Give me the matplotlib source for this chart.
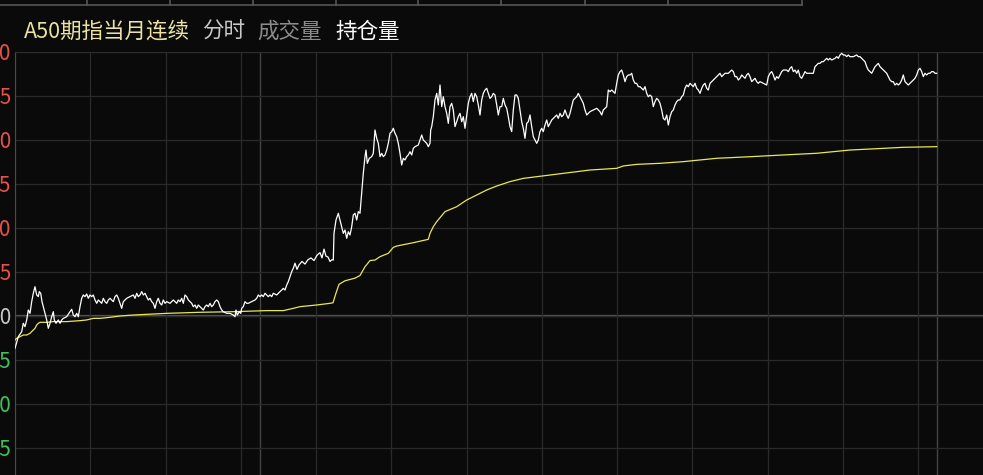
import numpy as np
import matplotlib
matplotlib.use("Agg")
import matplotlib.pyplot as plt
from matplotlib.lines import Line2D

plt.rcParams['font.family'] = ['Noto Sans CJK SC', 'DejaVu Sans']

# time axis in ticks of the intraday session, change in basis points vs previous close
price_t = [0, 3.3, 6.7, 8.3, 10, 11.7, 13.3, 15, 16.7, 18.3, 20, 21.7, 23.3, 24.3, 25.7, 27, 28.3, 30,
           31.7, 33.3, 35, 36.7, 38.3, 39.3, 41, 43.3, 45, 46.7, 48.3, 51.7, 55, 56.7, 58.3, 60, 61.7,
           63.3, 65, 66.7, 68.3, 70, 71.7, 73.3, 75, 76.7, 78.3, 80, 81.7, 83.3, 85, 86.7, 88.3, 90,
           91.7, 93.3, 95, 98.3, 100, 101.7, 103.3, 105, 106.7, 108.3, 110, 111.7, 115, 118.3, 120,
           121.7, 123.3, 125, 126.7, 128.3, 130, 131.7, 133.3, 135, 136.7, 138.3, 140, 141.7, 143.3,
           145, 146.7, 148.3, 150, 151.7, 155, 156.7, 158.3, 160, 161.7, 163.3, 165, 166.7, 168.3,
           170, 171.7, 173.3, 175, 176.7, 178.3, 180, 181.7, 183.3, 185, 186.7, 188.3, 190, 191.7,
           193.3, 195, 196.7, 198.3, 200, 201.7, 203.3, 205, 206.7, 208.3, 211.7, 215, 218.3, 220,
           221, 222.3, 224.3, 225.7, 226.7, 228.3, 230, 231.7, 233.3, 236.7, 240, 241.7, 243.3, 245,
           246.7, 248.3, 250, 251.7, 253.3, 255, 256.7, 258.3, 261.7, 263.3, 265, 266.7, 268.3, 270,
           271.7, 273.3, 275, 276.7, 278.3, 280, 282, 284, 287, 290, 293, 296, 299, 302, 305, 307,
           309, 311, 313, 315, 317,
           318.3, 319, 321, 323.3, 325, 326.7, 328.3, 330, 331.7, 333.3, 335, 336.7, 338.3, 340,
           341.7, 343.3, 345, 346.7, 348.3, 350, 351, 352.3, 354.3, 356.7, 358.3, 360, 361.7, 363.3,
           365, 366.7, 368.3, 370, 371.7, 373.3, 375, 376.7, 378.3, 380, 381.7, 383.3, 385, 386.7,
           388.3, 390, 391.7, 393.3, 395, 396.7, 398.3, 400, 403.3, 405, 406.7, 408.3, 410, 411.7,
           413.3, 415, 415.7, 416.7, 418.3, 420, 421.7, 423.3, 425, 426.7, 428.3, 430, 431.7, 433.3,
           435, 436.7, 438.3, 440, 441.7, 443.3, 445, 446.7, 448.3, 450, 451.7, 453.3, 455, 456.7,
           458.3, 460, 461.7, 463.3, 465, 466.7, 468.3, 470, 471.7, 473.3, 475, 476.7, 478.3, 480,
           481.7, 483.3, 485, 486.7, 488.3, 490, 491.7, 493.3, 495, 496.7, 498.3, 500, 501.7, 503.3,
           505, 506.7, 508.3, 510, 511.7, 513.3, 515, 516.7, 518.3, 520, 521.7, 523.3, 525, 526.7,
           528.3, 530, 531.7, 533.3, 535, 536.7, 538.3, 540, 541.7, 543.3, 545, 546.7, 548.3, 550,
           551.7, 553.3, 555, 556.7, 558.3, 560, 561.7, 563.3, 565, 566.7, 568.3, 570, 571.7, 573.3,
           575, 578.3, 581.7, 583.3, 585, 586.7, 588.3, 590, 591.7, 593.3, 595, 596.7, 598.3, 600,
           601.7, 603.3, 605, 606.7, 608.3, 610, 611.7, 613.3, 615, 616.7, 618.3, 620, 621.7, 623.3,
           625, 626.7, 628.3, 630, 631.7, 633.3, 635, 636.7, 638.3, 640, 641.7, 643.3, 645, 646.7,
           648.3, 650, 651.7, 653.3, 655, 656.7, 658.3, 660, 661.7, 663.3, 665, 666.7, 668.3, 670,
           671.7, 673.3, 675, 676.7, 678.3, 680, 681.7, 683.3, 685, 686.7, 688.3, 690, 691.7, 693.3,
           695, 696.7, 698.3, 700, 701.7, 703.3, 705, 706.7, 708.3, 710, 713.3, 715, 716.7, 718.3,
           720, 721.7, 723.3, 725, 726.7, 728.3, 730, 731.7, 733.3, 735, 736.7, 738.3, 740, 741.7,
           743.3, 745, 748.3, 751.7, 753.3, 755, 756.7, 758.3, 760, 761.7, 763.3, 765, 766.7, 768.3,
           771.7, 773.3, 775, 776.7, 778.3, 780, 781.7, 783.3, 785, 786.7, 788.3, 790, 791.7, 795,
           798.3, 800, 801.7, 803.3, 805, 806.7, 808.3, 810, 811.7, 813.3, 815, 816.7, 820, 821.7,
           823.3, 825, 826.7, 828.3, 830, 831.7, 833.3, 835, 838.3, 841.7, 843.3, 845, 846.7, 848.3,
           850, 851.7, 853.3, 855, 856.7, 858.3, 860, 861.7, 863.3, 865, 866.7, 868.3, 870, 871.7,
           873.3, 875, 876.7, 878.3, 880, 881.7, 883.3, 885, 886.7, 888.3, 890, 891.7, 893.3, 895,
           896.7, 898.3, 900, 901.7, 903.3, 905, 906.7, 908.3, 910, 911.7, 913.3, 915, 916.7, 918.3,
           920, 921.7]
price_bp = [-3.67, -2.35, -1.78, -0.83, -1.21, -0.45, 0.68, 0.30, 1.63, 2.58, 3.33, 2.39, 2.20, 2.77,
            2.58, 1.63, 1.06, 0.30, -0.45, -1.40, -0.83, -0.08, 0.49, -0.45, -0.83, -0.45, -0.83,
            -0.45, -0.27, -0.08, 0.49, 0.76, 0.11, -0.08, 0.30, -0.08, 1.06, 2.01, 2.39, 2.20, 2.50,
            2.01, 2.39, 2.20, 2.39, 1.82, 1.44, 1.82, 1.63, 1.44, 2.01, 1.63, 1.44, 1.82, 2.01, 1.63,
            2.20, 2.39, 2.01, 1.44, 0.87, 1.63, 1.82, 2.01, 2.20, 2.39, 2.01, 2.58, 2.20, 2.39, 2.77,
            2.39, 2.58, 2.20, 1.82, 2.01, 1.63, 1.44, 0.87, 1.63, 2.01, 1.44, 1.25, 1.82, 1.44, 1.63,
            1.44, 1.63, 1.82, 1.63, 1.44, 1.82, 1.63, 2.01, 1.44, 2.39, 2.20, 1.82, 1.63, 1.44, 1.06,
            1.25, 0.87, 1.25, 1.06, 0.87, 0.68, 1.06, 1.25, 1.06, 1.44, 1.06, 1.25, 1.63, 1.82, 1.63,
            1.06, 0.68, 0.49, 0.30, 0.30, 0.11, -0.08, 0.68, 0.11, 0.49, 0.30, 0.87, 1.06, 1.63, 1.44,
            1.44, 1.63, 1.82, 2.01, 2.39, 2.20, 2.39, 2.20, 2.58, 2.39, 2.20, 2.39, 2.20, 2.58, 2.39,
            2.58, 2.77, 2.95, 3.14, 2.95, 3.52, 3.90, 4.47, 5.04, 5.42, 6.0, 5.3, 5.8, 6.2, 5.9, 6.4,
            6.6, 6.3, 6.9, 7.2, 6.6, 7.6, 6.8, 6.7, 6.2, 6.4,
            6.36, 9.39, 10.91, 11.67, 10.91, 10.15, 9.39, 9.77, 8.83, 9.58, 9.20, 10.15, 11.48, 11.67,
            10.91, 11.86, 11.67, 13.94, 16.21, 18.11, 18.86, 17.35, 17.92, 18.11, 18.48, 21.14, 20.19,
            19.62, 18.11, 18.48, 18.11, 18.30, 18.86, 19.62, 20.76, 20.95, 21.33, 20.76, 20.38, 19.62,
            18.48, 17.16, 17.92, 17.73, 18.11, 18.30, 18.67, 18.30, 19.05, 19.24, 19.43, 20.0, 20.57,
            20.0, 19.81, 19.62, 19.24, 19.62, 21.14, 21.52, 22.65, 24.55, 25.30, 23.98, 26.25, 23.79,
            24.92, 23.79, 23.03, 21.89, 23.79, 24.17, 23.41, 21.52, 22.08, 22.65, 23.03, 22.08, 22.65,
            21.33, 22.84, 24.17, 24.92, 25.30, 24.36, 25.30, 24.92, 23.98, 22.84, 24.55, 25.30, 25.68,
            25.87, 25.30, 24.73, 24.92, 25.30, 25.11, 23.98, 22.84, 23.79, 23.79, 24.73, 23.98, 23.60,
            22.65, 21.52, 20.95, 23.41, 25.11, 25.11, 24.73, 23.41, 22.08, 21.33, 20.19, 21.89, 22.08,
            22.84, 21.52, 20.38, 20.0, 19.62, 20.0, 20.95, 21.33, 20.95, 21.70, 22.27, 21.52, 21.89,
            22.27, 22.46, 22.65, 22.84, 22.46, 23.03, 22.65, 22.84, 23.41, 22.84, 22.46, 23.03, 23.79,
            24.55, 24.73, 24.92, 25.30, 24.92, 24.55, 24.17, 23.41, 22.84, 23.03, 23.22, 23.41, 23.60,
            23.41, 23.22, 22.84, 23.41, 23.60, 23.79, 25.68, 25.49, 25.68, 25.49, 25.30, 26.44, 27.39,
            27.77, 27.95, 27.39, 26.63, 27.20, 27.39, 27.39, 27.58, 26.82, 26.44, 26.44, 26.06, 26.06,
            25.87, 25.68, 26.06, 25.30, 24.92, 25.11, 24.92, 23.79, 24.36, 24.73, 24.55, 24.17, 23.41,
            22.46, 22.27, 22.84, 21.70, 22.65, 23.22, 23.41, 23.98, 24.36, 24.55, 24.55, 24.92, 25.11,
            25.87, 26.25, 26.06, 26.44, 26.25, 26.06, 26.44, 25.87, 25.68, 25.30, 25.87, 26.25, 26.44,
            25.87, 25.68, 26.44, 26.63, 26.82, 27.01, 27.20, 27.39, 27.58, 27.20, 27.39, 27.58, 27.58,
            27.77, 27.95, 27.77, 27.20, 27.20, 26.82, 27.01, 27.39, 27.20, 27.01, 27.39, 27.58, 27.20,
            26.63, 26.82, 27.01, 26.63, 26.44, 26.63, 26.44, 26.25, 27.20, 27.58, 27.77, 27.39, 26.82,
            27.20, 27.01, 27.39, 27.77, 27.95, 27.95, 27.77, 28.14, 28.33, 27.77, 27.95, 27.58, 27.95,
            27.20, 27.01, 27.39, 27.77, 27.58, 27.58, 27.58, 28.33, 28.52, 28.71, 28.71, 28.90, 28.90,
            29.09, 29.28, 29.09, 29.28, 29.09, 29.28, 29.47, 29.28, 29.66, 29.85, 29.66, 29.66, 29.47,
            29.66, 29.47, 29.47, 29.66, 29.47, 29.47, 29.28, 29.09, 28.90, 28.33, 27.95, 27.77, 27.58,
            27.95, 28.33, 28.52, 28.71, 28.33, 28.14, 27.95, 27.77, 27.58, 27.20, 26.82, 26.63, 26.63,
            26.25, 26.44, 26.25, 26.44, 26.82, 27.39, 26.63, 26.44, 26.25, 26.44, 26.63, 26.82, 27.01,
            27.39, 27.95, 28.14, 27.77, 27.20, 27.58, 27.39, 27.58, 27.58, 27.77, 27.77, 27.58, 27.58]

avg_t = [0, 1.7, 5, 8.3, 11.7, 15, 18.3, 20, 21.7, 23.3, 25, 31.7, 38.3, 51.7, 65, 71.7, 78.3, 85,
         95, 105, 118.3, 151.7, 185, 218.3, 251.7, 268.3, 278.3, 285, 301.7, 315, 318, 321, 324,
         330, 340, 345, 350, 355, 360, 365, 373.3, 378.3, 381.7, 398.3, 413.3, 415, 418.3, 421.7,
         430, 441.7, 451.7, 461.7, 471.7, 481.7, 495, 508.3, 521.7, 535, 548.3, 561.7, 575, 601.7,
         608.3, 621.7, 645, 668.3, 701.7, 735, 768.3, 801.7, 835, 868.3, 888.3, 921.7]
avg_bp = [-2.73, -2.54, -2.35, -2.16, -2.16, -1.97, -1.59, -1.40, -1.02, -0.83, -0.72, -0.72, -0.64,
          -0.64, -0.53, -0.45, -0.27, -0.27, -0.15, 0.0, 0.11, 0.30, 0.42, 0.49, 0.61, 0.61, 0.87,
          1.06, 1.25, 1.44, 1.5, 2.6, 3.6, 4.0, 4.3, 4.6, 5.6, 6.3, 6.36, 6.74, 7.12, 7.8, 7.95,
          8.33, 8.71, 9.39, 10.15, 10.72, 11.86, 12.42, 13.18, 13.75, 14.32, 14.77, 15.27, 15.64,
          15.83, 16.02, 16.21, 16.40, 16.59, 16.78, 17.05, 17.23, 17.35, 17.54, 17.92, 18.1, 18.30,
          18.49, 18.86, 19.05, 19.17, 19.24]

y_ticks = [30, 25, 20, 15, 10, 5, 0, -5, -10, -15]
session_breaks = [245, 922]
grid_step = 75.25

bg = '#0a0a0a'
fig = plt.figure(figsize=(9.83, 4.75), dpi=100, facecolor=bg)
ax = fig.add_axes([15 / 983, 0, 1 - 15 / 983, 1 - 52 / 475])
ax.set_facecolor(bg)

ax.set_xlim(0, 968)
ax.set_ylim(-18.07, 30)

ax.set_xticks(np.arange(0, 930, grid_step))
ax.set_xticklabels([])
ax.set_yticks(y_ticks)
ax.set_yticklabels(['%.2f' % (v / 100) for v in y_ticks])
ax.tick_params(axis='x', length=0)
ax.tick_params(axis='y', length=0, pad=3, labelsize=15)
for lab, v in zip(ax.get_yticklabels(), y_ticks):
    if v > 0:
        lab.set_color('#e8504a')
    elif v < 0:
        lab.set_color('#3cc45a')
    else:
        lab.set_color('#c8c8c8')

ax.grid(True, color='#2a2a2a', linewidth=0.9)
ax.axhline(0, color='#555555', linewidth=1.6, zorder=1)
for b in session_breaks:
    ax.axvline(b, color='#444444', linewidth=1.0, zorder=1)

for s in ['right', 'bottom']:
    ax.spines[s].set_visible(False)
ax.spines['left'].set_color('#4a4a4a')
ax.spines['top'].set_color('#2c2c2c')

ax.plot(avg_t, avg_bp, color='#e8e852', linewidth=0.9, zorder=3)
ax.plot(price_t, price_bp, color='#ffffff', linewidth=0.9, zorder=4)

# header strip above the chart
fig.add_artist(Line2D([0, 802 / 983], [1 - 5 / 475] * 2, color='#555555', linewidth=1.2))
for xp in [87, 170, 253, 336, 418, 501, 585, 668, 802]:
    fig.add_artist(Line2D([xp / 983] * 2, [1 - 5 / 475, 1], color='#555555', linewidth=1.2))

ty = 1 - 32 / 475
fs = 15.5
fig.text(24 / 983, ty, 'A50期指当月连续', color='#ece3a2', fontsize=fs, va='center')
fig.text(202 / 983, ty, '分时', color='#c8c8c8', fontsize=fs, va='center')
fig.text(257 / 983, ty, '成交量', color='#8c8c8c', fontsize=fs, va='center')
fig.text(335 / 983, ty, '持仓量', color='#ffffff', fontsize=fs, va='center')

fig.savefig('out.png', dpi=100, facecolor=bg)
